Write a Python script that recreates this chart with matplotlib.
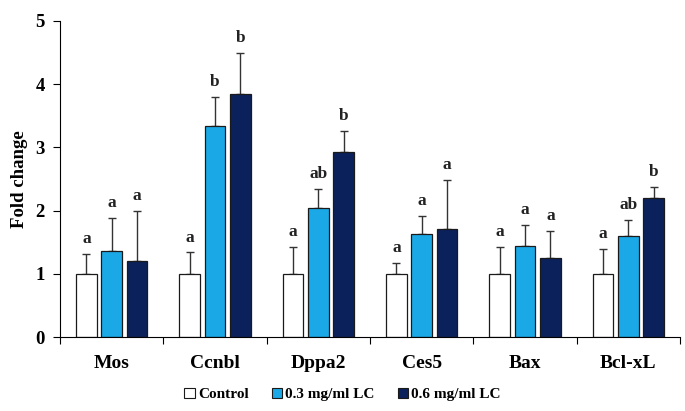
import matplotlib
matplotlib.use("Agg")
import matplotlib.pyplot as plt
from matplotlib.patches import Patch
import numpy as np

genes = ["Mos", "Ccnbl", "Dppa2", "Ces5", "Bax", "Bcl-xL"]
series_names = ["Control", "0.3 mg/ml LC", "0.6 mg/ml LC"]
control = [1.0, 1.0, 1.0, 1.0, 1.0, 1.0]
lc03 = [1.37, 3.34, 2.05, 1.63, 1.44, 1.60]
lc06 = [1.20, 3.84, 2.93, 1.71, 1.26, 2.20]
err_control = [0.32, 0.34, 0.43, 0.18, 0.43, 0.39]
err_lc03 = [0.51, 0.46, 0.30, 0.28, 0.34, 0.25]
err_lc06 = [0.80, 0.65, 0.33, 0.77, 0.42, 0.17]
letters_control = ["a", "a", "a", "a", "a", "a"]
letters_lc03 = ["a", "b", "ab", "a", "a", "ab"]
letters_lc06 = ["a", "b", "b", "a", "a", "b"]
yticks = [0, 1, 2, 3, 4, 5]

colors = ["#ffffff", "#1aa9e6", "#0b215c"]
font = "Liberation Serif"
plt.rcParams["font.family"] = [font, "DejaVu Serif"]
plt.rcParams["font.weight"] = "bold"

fig = plt.figure(figsize=(6.85, 4.11), dpi=100)
ax = fig.add_axes([0.0876, 0.1793, 0.9051, 0.7703])

x = np.arange(len(genes))
offsets = [-0.245, 0.0, 0.245]
width = 0.2
vals = [control, lc03, lc06]
errs = [err_control, err_lc03, err_lc06]
lets = [letters_control, letters_lc03, letters_lc06]

for k in range(3):
    ax.bar(x + offsets[k], vals[k], width, color=colors[k], edgecolor="#1a1a1a",
           linewidth=0.9, zorder=2)
    ax.errorbar(x + offsets[k], vals[k], yerr=[np.zeros(len(genes)), errs[k]],
                fmt="none", ecolor="#333333", elinewidth=1.0, capsize=3,
                capthick=1.0, zorder=1)
    for i in range(len(genes)):
        top = vals[k][i] + errs[k][i]
        ax.annotate(lets[k][i], (x[i] + offsets[k], top), xytext=(0, 5),
                    textcoords="offset points", ha="center", va="bottom",
                    fontsize=12.5, fontweight="bold", color="#222222")

ax.set_xlim(-0.5, len(genes) - 0.5)
ax.set_ylim(0, 5)
ax.set_yticks(yticks)
ax.set_yticklabels([str(t) for t in yticks], fontsize=13.5, fontweight="bold")
ax.set_xticks(x)
ax.set_xticklabels(genes, fontsize=14, fontweight="bold")
ax.set_xticks(np.arange(-0.5, len(genes)), minor=True)
ax.tick_params(axis="x", which="major", length=0, pad=13)
ax.tick_params(axis="x", which="minor", length=5, direction="out", width=0.8)
ax.tick_params(axis="y", length=5, direction="out", width=0.8, pad=6)
for s in ["top", "right"]:
    ax.spines[s].set_visible(False)
ax.spines["left"].set_linewidth(0.8)
ax.spines["bottom"].set_linewidth(0.8)
ax.set_ylabel("Fold change", fontsize=13.5, fontweight="bold", labelpad=5)

handles = [Patch(facecolor=colors[k], edgecolor="#1a1a1a", linewidth=0.8)
           for k in range(3)]
fig.legend(handles, series_names, loc="center", bbox_to_anchor=(0.5, 0.04),
           ncol=3, frameon=False, handlelength=0.7,
           handleheight=0.7, handletextpad=0.2, columnspacing=1.5,
           prop={"family": font, "weight": "bold", "size": 11})

fig.savefig("out.png", dpi=100)
